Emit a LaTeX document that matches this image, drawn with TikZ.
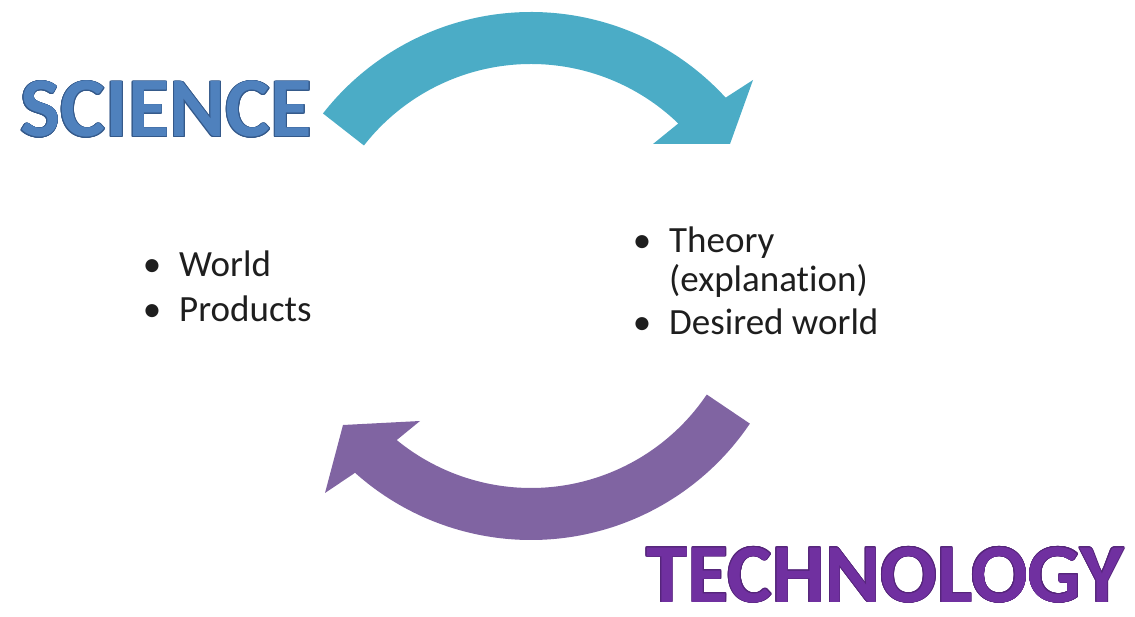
\documentclass[tikz,border=0pt]{standalone}
\usepackage{fontspec}
\setmainfont[Ligatures=NoCommon]{Carlito}
\usepackage[copies]{contour}
\contourlength{0.7pt}
\contournumber{16}
\definecolor{sciteal}{HTML}{4BACC6}
\definecolor{techpurple}{HTML}{8064A2}
\definecolor{scifill}{HTML}{4F81BD}
\definecolor{sciline}{HTML}{34598A}
\definecolor{techfill}{HTML}{7030A0}
\definecolor{techline}{HTML}{55257A}
\definecolor{bodytext}{HTML}{1E1E1E}
\tikzset{
  title/.style={anchor=base west, inner sep=0pt, text depth=0pt},
  bodyline/.style={anchor=base west, inner sep=0pt, text=bodytext, font=\fontsize{37}{44}\selectfont},
  bulletmark/.style={anchor=base, inner sep=0pt, text=bodytext, font=\fontsize{37}{44}\selectfont},
}
\begin{document}
\begin{tikzpicture}[x=1pt,y=1pt]
\useasboundingbox (0,0) rectangle (1135,616);
% top arrow (science -> right)
\fill[sciteal] ([shift={(531,340)}]142:264) arc[start angle=142,end angle=42.5,radius=264]
  -- (753,536) -- (730,472) -- (653,472)
  -- ([shift={(531,340)}]46:212) arc[start angle=46,end angle=142,radius=212] -- cycle;
% bottom arrow (technology -> left)
\fill[techpurple] ([shift={(531,340)}]-34:264) arc[start angle=-34,end angle=-131.8,radius=264]
  -- (325,123) -- (343,191) -- (420,195)
  -- ([shift={(531,340)}]-129.3:212) arc[start angle=-129.3,end angle=-34,radius=212] -- cycle;
% titles
\node[title, font=\fontsize{85}{95}\selectfont\bfseries] (science) at (20,479) {\contour{sciline}{\textcolor{scifill}{SCIENCE}}};
\node[title, font=\fontsize{84}{95}\selectfont\bfseries] (technology) at (646,14) {\contour{techline}{\textcolor{techfill}{TECHNOLOGY}}};
% left list
\node[bulletmark] (b1) at (152,339) {•};
\node[bodyline] (world) at (179,339) {World};
\node[bulletmark] (b2) at (152,294) {•};
\node[bodyline] (products) at (179,294) {Products};
% right list
\node[bulletmark] (b3) at (642,363) {•};
\node[bodyline] (theory) at (669,363) {Theory};
\node[bodyline] (expl) at (669,324) {(explanation)};
\node[bulletmark] (b4) at (642,281) {•};
\node[bodyline] (desired) at (669,281) {Desired world};
\end{tikzpicture}
\end{document}
